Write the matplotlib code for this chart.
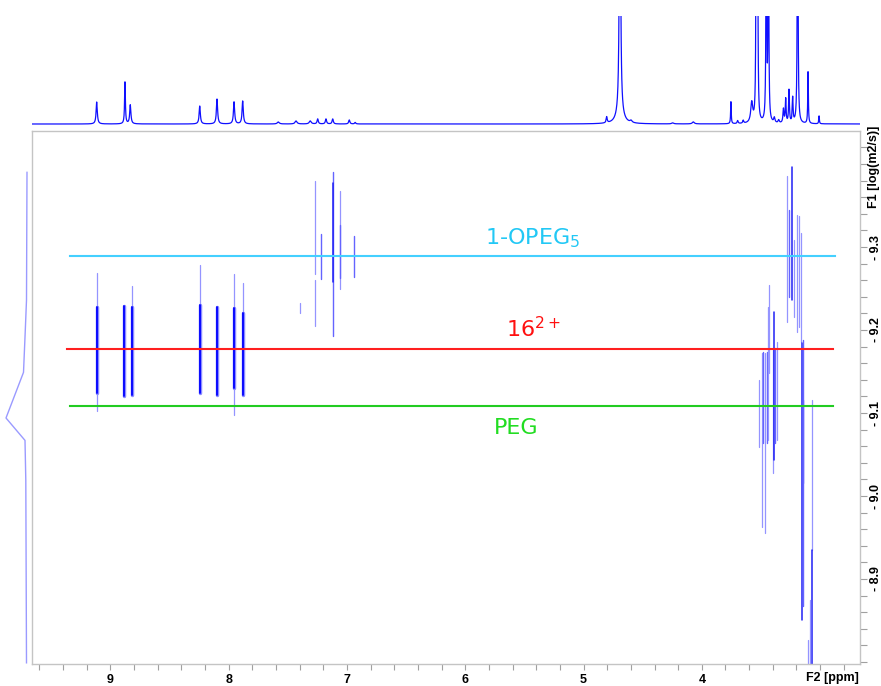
import numpy as np
import matplotlib
matplotlib.use("Agg")
import matplotlib.pyplot as plt
from matplotlib.ticker import MultipleLocator, FixedLocator

# ---------------- data ----------------
# 1D proton spectrum peak list: position (ppm), height (a.u.), half width (ppm)
h1_ppm = [9.115, 8.876, 8.831, 8.244, 8.098, 7.954, 7.881,
          7.58, 7.43, 7.31, 7.247, 7.177, 7.12, 6.98, 6.93,
          4.804, 4.692, 4.692, 4.598, 4.246, 4.072,
          3.754, 3.697, 3.65, 3.578, 3.54, 3.529, 3.455, 3.437,
          3.387, 3.35, 3.31, 3.291, 3.263, 3.232, 3.19, 3.102, 3.009]
h1_height = [22, 42, 19, 18, 25, 22, 23,
             2, 3, 3, 5, 5, 5, 4, 1.5,
             6, 400, 10, 2, 1, 2,
             22, 3, 3, 20, 300, 300, 300, 300,
             5, 3, 14, 24, 33, 25, 400, 52, 8]
h1_width = [0.006, 0.004, 0.006, 0.006, 0.006, 0.006, 0.006,
            0.01, 0.01, 0.01, 0.006, 0.006, 0.006, 0.006, 0.006,
            0.005, 0.005, 0.03, 0.01, 0.01, 0.01,
            0.003, 0.005, 0.005, 0.010, 0.003, 0.003, 0.003, 0.003,
            0.006, 0.006, 0.005, 0.004, 0.004, 0.004, 0.003, 0.003, 0.003]

# DOSY cross peaks: ppm, logD top, logD bottom, contour level
seg_ppm = [9.110, 9.110, 8.887, 8.817, 8.817, 8.242, 8.242, 8.101,
           7.952, 7.952, 7.878, 7.878,
           7.399, 7.272, 7.272, 7.216, 7.120, 7.120, 7.058, 7.058, 6.940,
           3.277, 3.260, 3.238, 3.218, 3.198, 3.181, 3.164,
           3.514, 3.494, 3.480, 3.466, 3.451, 3.438, 3.429, 3.401, 3.390, 3.379, 3.367,
           3.155, 3.147, 3.142, 3.068, 3.068, 3.085, 3.100]
seg_top = [-9.269, -9.228, -9.229, -9.253, -9.228, -9.278, -9.230, -9.228,
           -9.267, -9.227, -9.257, -9.220,
           -9.233, -9.380, -9.260, -9.316, -9.390, -9.377, -9.367, -9.327, -9.313,
           -9.385, -9.345, -9.397, -9.308, -9.339, -9.337, -9.317,
           -9.140, -9.172, -9.174, -9.172, -9.174, -9.228, -9.254, -9.176, -9.222, -9.178, -9.186,
           -9.184, -9.188, -9.116, -9.116, -8.935, -8.875, -8.827]
seg_bot = [-9.102, -9.124, -9.121, -9.122, -9.122, -9.124, -9.124, -9.122,
           -9.098, -9.130, -9.122, -9.122,
           -9.220, -9.268, -9.205, -9.262, -9.193, -9.258, -9.250, -9.263, -9.264,
           -9.210, -9.240, -9.236, -9.216, -9.198, -9.204, -9.186,
           -9.059, -8.963, -9.064, -8.955, -9.064, -9.067, -9.148, -9.028, -9.043, -9.064, -9.067,
           -8.851, -9.016, -8.867, -8.935, -8.798, -8.798, -8.798]
seg_level = [1, 3, 3, 1, 3, 1, 3, 3,
             1, 3, 1, 3,
             1, 1, 1, 2, 2, 4, 1, 2, 2,
             1, 2, 4, 1, 1, 1, 1,
             1, 1, 2, 1, 2, 1, 1, 1, 4, 2, 1,
             4, 2, 2, 1, 4, 1, 1]

# F1 projection (logD, intensity)
proj_logd = [-9.390, -9.236, -9.200, -9.149, -9.094, -9.067, -9.019, -8.799]
proj_int = [0.0, 0.5, 1.7, 3.5, 21.0, 2.0, 1.2, 0.5]

# species diffusion lines
species = ["1-OPEG$_5$", "16$^{2+}$", "PEG"]
species_logd = [-9.289, -9.177, -9.108]
species_ppm_range = [(9.337, 2.872), (9.365, 2.892), (9.337, 2.892)]
species_label_pos = [(5.427, -9.311), (5.427, -9.202), (5.571, -9.082)]
species_line_color = ["#44d0ff", "#ff1f1f", "#22cc22"]
species_text_color = ["#22c8f5", "#ff1010", "#22dd22"]

x_major = [9, 8, 7, 6, 5, 4, 3]
x_labels = ["9", "8", "7", "6", "5", "4", ""]
y_major = [-9.3, -9.2, -9.1, -9.0, -8.9]
y_labels = ["- 9.3", "- 9.2", "- 9.1", "- 9.0", "- 8.9"]

XLIM = (9.662, 2.663)
YLIM = (-8.7976, -9.4398)

# ---------------- figure ----------------
W, H = 881, 686
fig = plt.figure(figsize=(W / 100, H / 100), dpi=100)


def px_axes(l, t, r, b):
    return fig.add_axes([l / W, 1 - b / H, (r - l) / W, (b - t) / H])


narrow = ["Liberation Sans Narrow", "Liberation Sans", "DejaVu Sans"]

# main DOSY axes
ax = px_axes(32, 131, 860, 664)
ax.set_xlim(*XLIM)
ax.set_ylim(*YLIM)
for s in ax.spines.values():
    s.set_color("#c4c4c4")
    s.set_linewidth(1.0)

styles = {
    1: [("#9494ff", 0.9)],
    2: [("#6464ff", 1.0)],
    3: [("#8a8aff", 2.5), ("#0000ff", 1.3)],
    4: [("#2020f5", 1.1)],
}
for p, t, b, lev in zip(seg_ppm, seg_top, seg_bot, seg_level):
    for col, lw in styles[lev]:
        ax.plot([p, p], [t, b], color=col, lw=lw, solid_capstyle="round", zorder=2)

for name, ld, (x0, x1), (tx, ty), lc, tc in zip(species, species_logd, species_ppm_range,
                                              species_label_pos, species_line_color,
                                              species_text_color):
    ax.plot([x0, x1], [ld, ld], color=lc, lw=1.5, zorder=3)
    ax.text(tx, ty, name, color=tc, fontsize=16, ha="center", va="center",
            family="DejaVu Sans", zorder=4)

ax.xaxis.set_major_locator(FixedLocator(x_major))
ax.set_xticklabels(x_labels)
ax.xaxis.set_minor_locator(MultipleLocator(0.2))
ax.yaxis.tick_right()
ax.yaxis.set_major_locator(FixedLocator(y_major))
ax.set_yticklabels(y_labels, rotation=90, va="center")
ax.yaxis.set_minor_locator(MultipleLocator(0.02))
ax.tick_params(axis="x", which="both", direction="out", length=4, width=0.8,
               color="#a0a0a0", pad=3, labelsize=9)
ax.tick_params(axis="y", which="both", direction="out", length=5, width=0.8,
               color="#a0a0a0", pad=2, labelsize=9, left=False, right=True)
for lab in ax.get_xticklabels() + ax.get_yticklabels():
    lab.set_family(narrow)
    lab.set_weight("bold")

fig.text(859 / W, 1 - 678 / H, "F2 [ppm]", ha="right", va="center",
         fontsize=9, weight="bold", family=narrow)
fig.text(874 / W, 1 - 167 / H, "F1 [log(m2/s)]", ha="center", va="center",
         rotation=90, fontsize=9, weight="bold", family=narrow)

# top 1D spectrum
axt = px_axes(32, 16, 860, 126)
axt.set_xlim(*XLIM)
axt.set_ylim(-2, 108)
axt.axis("off")
xs = np.linspace(XLIM[1], XLIM[0], 8000)
spec = np.zeros_like(xs)
for p, h, w in zip(h1_ppm, h1_height, h1_width):
    spec += h * w ** 2 / (w ** 2 + (xs - p) ** 2)
axt.plot(xs, spec, color="#1010ff", lw=0.9)

# left F1 projection
axl = px_axes(0, 131, 32, 664)
axl.set_ylim(*YLIM)
axl.set_xlim(27, -5)
axl.axis("off")
axl.plot(proj_int, proj_logd, color="#9a9aff", lw=1.0)

fig.savefig("out.png", dpi=100)
